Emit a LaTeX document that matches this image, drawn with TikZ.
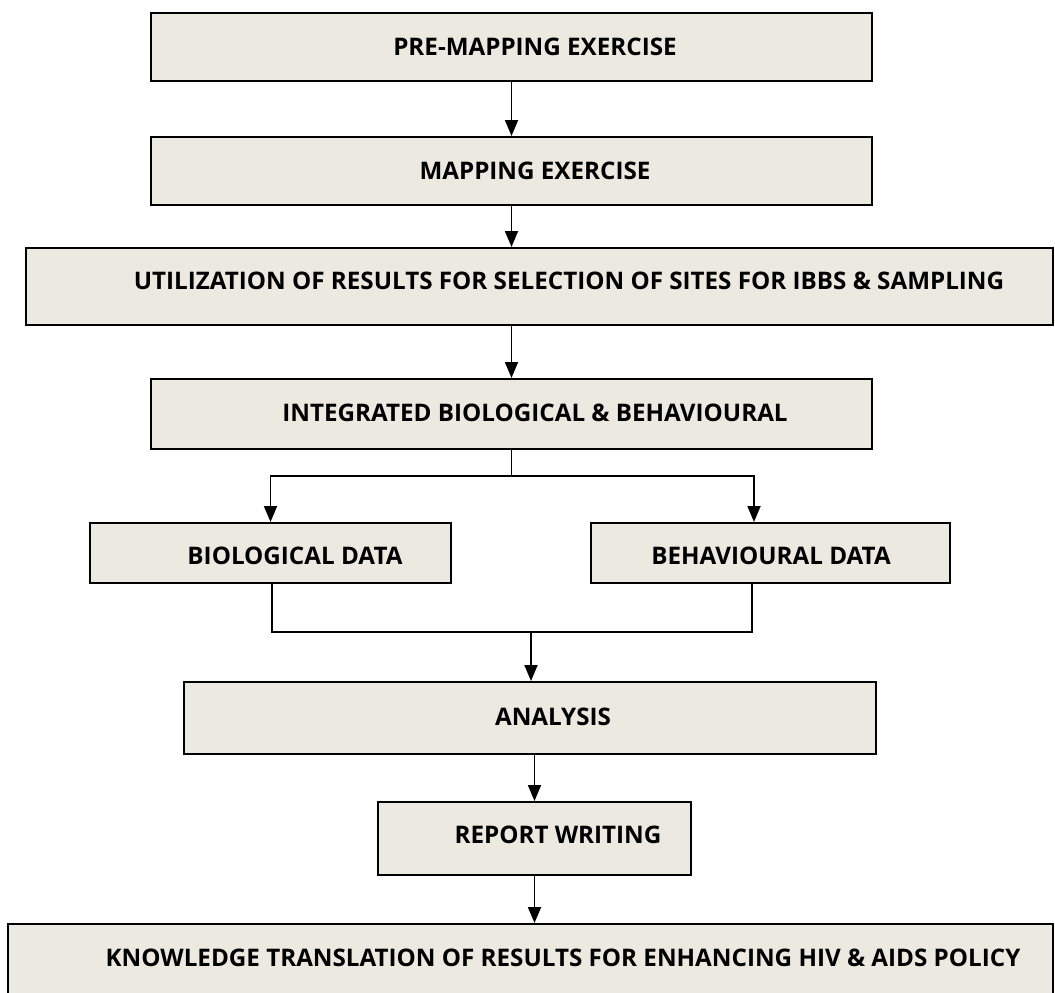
\documentclass[tikz,border=0pt]{standalone}
\usepackage{fontspec}
\setmainfont{Open Sans}
\usepackage{tikz}
\usetikzlibrary{arrows.meta}

\definecolor{boxfill}{RGB}{236,234,224}

\begin{document}
\begin{tikzpicture}[x=0.5pt, y=-0.5pt,
  box/.style={draw=black, line width=1pt, fill=boxfill, inner sep=0pt},
  txt/.style={font=\bfseries\fontsize{12.1}{14}\selectfont, inner sep=0pt},
  arr/.style={line width=0.9pt, -{Triangle[length=8pt, width=6.5pt]}},
  lin/.style={line width=0.9pt}]
  \useasboundingbox (0,0) rectangle (1055,992);
  \clip (0,0) rectangle (1055,992);
  % boxes
  \node[box, minimum width=360.5pt, minimum height=34pt] (pre) at (511.5,47) {};
  \node[box, minimum width=360.5pt, minimum height=34pt] (map) at (511.5,171) {};
  \node[box, minimum width=513.5pt, minimum height=38.5pt] (util) at (539.5,286.5) {};
  \node[box, minimum width=360.5pt, minimum height=35pt] (integ) at (511.5,414) {};
  \node[box, minimum width=180.5pt, minimum height=30pt] (bio) at (270.5,553) {};
  \node[box, minimum width=179.5pt, minimum height=30pt] (behav) at (770.5,553) {};
  \node[box, minimum width=346pt, minimum height=36pt] (analysis) at (530,718) {};
  \node[box, minimum width=156.5pt, minimum height=36.5pt] (report) at (534.5,838.5) {};
  \node[box, minimum width=522.5pt, minimum height=43pt] (know) at (530.5,967) {};
  % labels
  \node[txt] (preT) at (535,47) {PRE-MAPPING EXERCISE};
  \node[txt] (mapT) at (535,171) {MAPPING EXERCISE};
  \node[txt] (utilT) at (569,281) {UTILIZATION OF RESULTS FOR SELECTION OF SITES FOR IBBS \& SAMPLING};
  \node[txt] (integT) at (535,413) {INTEGRATED BIOLOGICAL \& BEHAVIOURAL};
  \node[txt] (bioT) at (295,556) {BIOLOGICAL DATA};
  \node[txt] (behavT) at (771,556) {BEHAVIOURAL DATA};
  \node[txt] (analysisT) at (553,717) {ANALYSIS};
  \node[txt] (reportT) at (558,835) {REPORT WRITING};
  \node[txt] (knowT) at (563,958) {KNOWLEDGE TRANSLATION OF RESULTS FOR ENHANCING HIV \& AIDS POLICY};
  % connectors
  \draw[arr] (pre.south) -- (map.north);
  \draw[arr] (map.south) -- (map.south |- util.north);
  \draw[arr] (integ.north |- util.south) -- (integ.north);
  \coordinate (sp) at ([yshift=-13pt]integ.south);
  \draw[lin] (integ.south) -- (sp);
  \draw[arr] (sp) -| (bio.north);
  \draw[arr] (sp) -| ([xshift=-8.25pt]behav.north);
  \coordinate (mg) at (531,632);
  \coordinate (bs) at ([xshift=-9.25pt]behav.south);
  \draw[lin] ([xshift=0.75pt]bio.south) |- (mg) -| (bs);
  \draw[arr] (mg) -- (mg |- analysis.north);
  \draw[arr] (report.north |- analysis.south) -- (report.north);
  \draw[arr] (report.south) -- (report.south |- know.north);
\end{tikzpicture}
\end{document}
